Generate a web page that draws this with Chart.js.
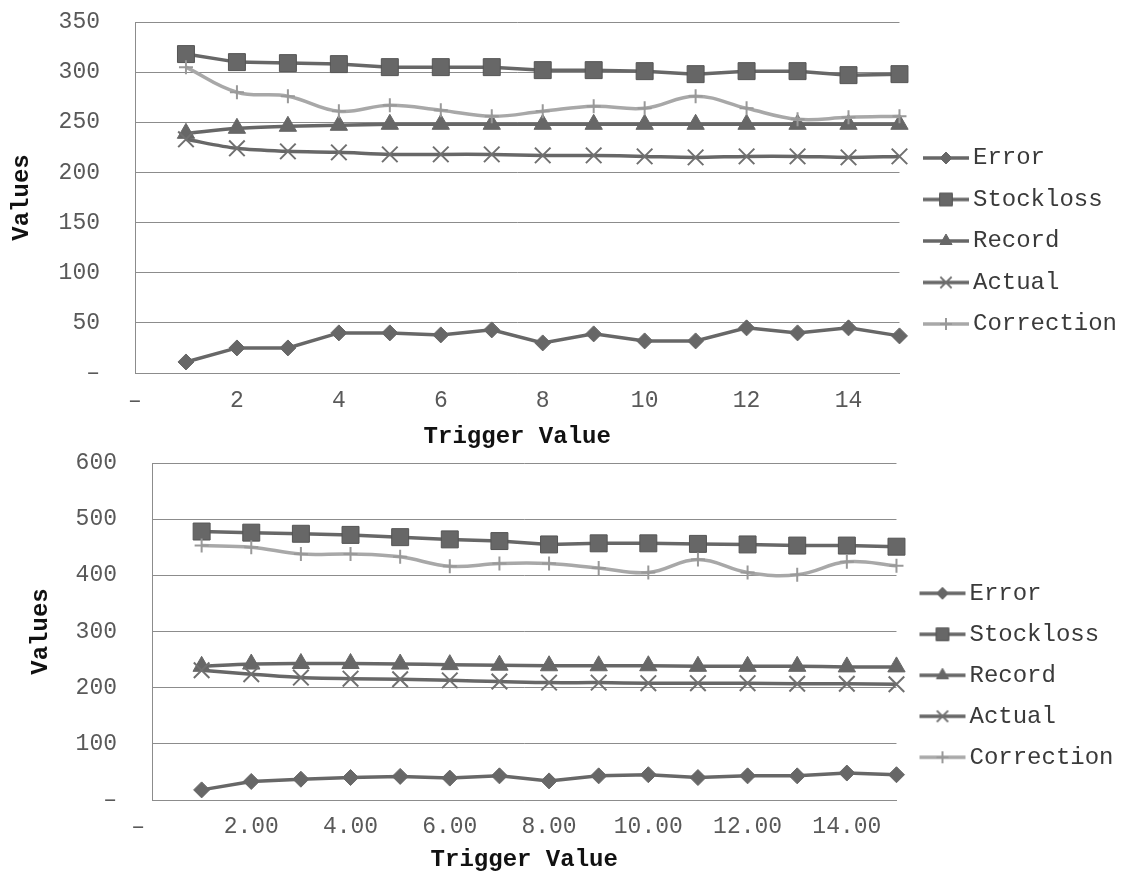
<!DOCTYPE html>
<html>
<head>
<meta charset="utf-8">
<title>Trigger Value charts</title>
<script src="https://cdn.jsdelivr.net/npm/chart.js@4.4.1/dist/chart.umd.min.js"></script>
<style>
  html, body { margin: 0; padding: 0; background: #fff; }
  #wrap { position: relative; width: 1129px; height: 874px; overflow: hidden; }
  canvas { position: absolute; left: 0; }
  #topChart { top: 0; }
  #bottomChart { top: 440px; }
</style>
</head>
<body>
<div id="wrap">
  <canvas id="topChart" width="1129" height="460"></canvas>
  <canvas id="bottomChart" width="1129" height="434"></canvas>
</div>
<script>
// Trigger values (x) shared by both charts
const triggers = [1, 2, 3, 4, 5, 6, 7, 8, 9, 10, 11, 12, 13, 14, 15];
const seriesNames = ['Error', 'Stockloss', 'Record', 'Actual', 'Correction'];

// --- Top chart values ---
const topError      = [11, 25, 25, 40, 40, 38, 43, 30, 39, 32, 32, 45, 40, 45, 37];
const topStockloss  = [318, 310, 309, 308, 305, 305, 305, 302, 302, 301, 298, 301, 301, 297, 298];
const topRecord     = [239, 244, 246, 247, 248, 248, 248, 248, 248, 248, 248, 248, 248, 248, 248];
const topActual     = [233, 224, 221, 220, 218, 218, 218, 217, 217, 216, 215, 216, 216, 215, 216];
const topCorrection = [305, 280, 276, 261, 267, 262, 256, 261, 266, 264, 276, 264, 253, 255, 256];

// --- Bottom chart values ---
const bottomError      = [18, 33, 37, 40, 42, 39, 43, 34, 43, 45, 40, 43, 43, 48, 45];
const bottomStockloss  = [478, 476, 474, 472, 468, 464, 461, 455, 457, 457, 456, 455, 453, 453, 451];
const bottomRecord     = [238, 242, 243, 243, 242, 241, 240, 239, 239, 239, 238, 238, 238, 237, 237];
const bottomActual     = [231, 224, 218, 216, 215, 213, 211, 209, 209, 208, 208, 208, 207, 207, 206];
const bottomCorrection = [453, 450, 438, 438, 433, 416, 421, 421, 413, 405, 428, 405, 401, 424, 417];

// Tick values and their labels
const xTickValues = [0, 2, 4, 6, 8, 10, 12, 14];
const topXLabels = ['\u2013', '2', '4', '6', '8', '10', '12', '14'];
const topYLabels = ['\u2013', '50', '100', '150', '200', '250', '300', '350'];
const bottomXLabels = ['\u2013  ', '2.00', '4.00', '6.00', '8.00', '10.00', '12.00', '14.00'];
const bottomYLabels = ['\u2013', '100', '200', '300', '400', '500', '600'];

const dark = '#676767';
const light = '#a8a8a8';
const mono = "'Liberation Mono', 'Courier New', monospace";

// marker look per series (same order as seriesNames)
const markers = [
  { style: 'rectRot',  r: 8,  lr: 6, color: dark,  edge: dark,      edgeW: 1, tension: 0 },
  { style: 'rect',     r: 12, lr: 9, color: dark,  edge: '#555',    edgeW: 1, tension: 0 },
  { style: 'triangle', r: 10, lr: 7, color: dark,  edge: dark,      edgeW: 1, tension: 0.3 },
  { style: 'crossRot', r: 11, lr: 8, color: dark,  edge: '#707070', edgeW: 2, tension: 0.3 },
  { style: 'cross',    r: 7,  lr: 6, color: light, edge: '#999',    edgeW: 2, tension: 0.4 }
];

// small line + marker picture used as legend symbol
function legendSwatch(m) {
  const c = document.createElement('canvas');
  c.width = 62;
  c.height = 24;
  const ctx = c.getContext('2d');
  ctx.strokeStyle = m.color;
  ctx.lineWidth = 3.5;
  ctx.beginPath();
  ctx.moveTo(15, 12);
  ctx.lineTo(61, 12);
  ctx.stroke();
  ctx.fillStyle = m.color;
  ctx.strokeStyle = m.edge;
  ctx.lineWidth = m.edgeW;
  Chart.helpers.drawPoint(ctx, { pointStyle: m.style, radius: m.lr, rotation: 0, borderWidth: m.edgeW }, 38, 12);
  return c;
}

function buildDatasets(seriesValues) {
  return seriesValues.map((vals, i) => {
    const m = markers[i];
    return {
      label: seriesNames[i],
      data: triggers.map((t, k) => ({ x: t, y: vals[k] })),
      borderColor: m.color,
      backgroundColor: m.color,
      borderWidth: 3.5,
      pointStyle: m.style,
      pointRadius: m.r,
      pointHoverRadius: m.r,
      pointBackgroundColor: m.color,
      pointBorderColor: m.edge,
      pointBorderWidth: m.edgeW,
      tension: m.tension,
      order: seriesValues.length - i,
      clip: false
    };
  });
}

function makeChart(id, seriesValues, cfg) {
  const swatches = markers.map(legendSwatch);
  return new Chart(document.getElementById(id), {
    type: 'line',
    data: { datasets: buildDatasets(seriesValues) },
    options: {
      responsive: false,
      animation: false,
      devicePixelRatio: 1,
      layout: { padding: { top: cfg.padTop, right: cfg.padRight, bottom: 0, left: 0 } },
      plugins: {
        tooltip: { enabled: false },
        legend: {
          position: 'right',
          title: { display: cfg.legendShift > 0, text: '', font: { size: 8 }, padding: { top: cfg.legendShift, bottom: 0 } },
          labels: {
            usePointStyle: true,
            pointStyleWidth: 44,
            padding: cfg.legendGap,
            color: '#3a3a3a',
            font: { family: mono, size: 24 },
            sort: (a, b) => a.datasetIndex - b.datasetIndex,
            generateLabels: (chart) => {
              const items = Chart.defaults.plugins.legend.labels.generateLabels(chart);
              items.forEach(it => { it.pointStyle = swatches[it.datasetIndex]; });
              return items;
            }
          }
        }
      },
      scales: {
        x: {
          type: 'linear',
          min: 0,
          max: 15,
          afterBuildTicks: (scale) => { scale.ticks = xTickValues.map(v => ({ value: v })); },
          afterFit: (scale) => { scale.height = cfg.xHeight; },
          grid: { display: false, drawTicks: false },
          border: { display: true, color: '#8c8c8c', width: 1 },
          ticks: {
            padding: cfg.xTickPad,
            autoSkip: false,
            maxRotation: 0,
            color: '#595959',
            font: { family: mono, size: 23 },
            callback: (v, i) => cfg.xLabels[i]
          },
          title: {
            display: true,
            text: 'Trigger Value',
            color: '#111',
            font: { family: mono, size: 24, weight: 'bold' },
            padding: { top: 0, bottom: cfg.xTitlePad }
          }
        },
        y: {
          min: 0,
          max: cfg.yMax,
          afterFit: (scale) => {
            scale.width = cfg.yWidth;
            // the wide label gap should not push the plot down
            scale.paddingTop = 0;
            scale.paddingBottom = 0;
          },
          grid: { color: '#8c8c8c', lineWidth: 1, drawTicks: false },
          border: { display: true, color: '#8c8c8c', width: 1 },
          ticks: {
            stepSize: cfg.yStep,
            padding: 35,
            color: '#595959',
            font: { family: mono, size: 23 },
            callback: (v, i) => cfg.yLabels[i]
          },
          title: {
            display: true,
            text: 'Values',
            color: '#111',
            font: { family: mono, size: 24, weight: 'bold' },
            padding: { top: cfg.yTitlePad, bottom: 0 }
          }
        }
      }
    }
  });
}

document.addEventListener('DOMContentLoaded', () => {
  makeChart('topChart', [topError, topStockloss, topRecord, topActual, topCorrection], {
    padTop: 22, padRight: 2, yWidth: 135, xHeight: 87,
    yMax: 350, yStep: 50, xLabels: topXLabels, yLabels: topYLabels,
    xTickPad: 14, xTitlePad: 8.6, yTitlePad: 8, legendGap: 17.5, legendShift: 0
  });

  makeChart('bottomChart', [bottomError, bottomStockloss, bottomRecord, bottomActual, bottomCorrection], {
    padTop: 23, padRight: 5.5, yWidth: 152, xHeight: 74,
    yMax: 600, yStep: 100, xLabels: bottomXLabels, yLabels: bottomYLabels,
    xTickPad: 13, xTitlePad: 0, yTitlePad: 27, legendGap: 17, legendShift: 4
  });
});
</script>
</body>
</html>
